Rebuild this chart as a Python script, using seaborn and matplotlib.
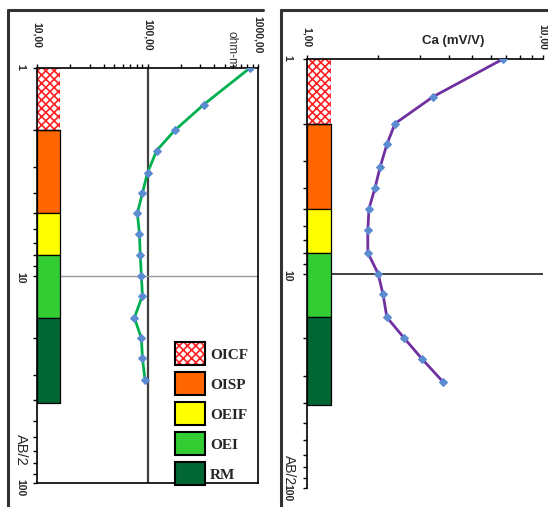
import numpy as np
import pandas as pd
import matplotlib
matplotlib.use('Agg')
import matplotlib.pyplot as plt
import seaborn as sns
from matplotlib.patches import Patch
from matplotlib.lines import Line2D
from matplotlib.ticker import LogLocator, NullFormatter

# sounding data
ab2 = [1, 1.5, 2, 2.5, 3.2, 4, 5, 6.3, 8, 10, 12.5, 16, 20, 25, 32]
rho = [845, 323, 176, 121, 100, 90, 81, 84.5, 86, 88, 90, 76, 88, 90, 95]
ca = [6.77, 3.42, 2.36, 2.18, 2.04, 1.94, 1.83, 1.81, 1.81, 2.0, 2.1, 2.18, 2.58, 3.07, 3.77]

# lithology column
layer_names = ['OICF', 'OISP', 'OEIF', 'OEI', 'RM']
layer_top = [1, 2, 5, 8, 16]
layer_bottom = [2, 5, 8, 16, 41]
layer_colors = ['white', '#FF6600', '#FFFF00', '#33CC33', '#006633']

rho_ticks = [10, 100, 1000]
rho_labels = ['10,00', '100,00', '1000,00']
ca_ticks = [1, 10]
ca_labels = ['1,00', '10,00']
ab_ticks = [1, 10, 100]
ab_labels = ['1', '10', '100']

df = pd.DataFrame({'ab2': ab2, 'rho': rho, 'ca': ca})

sns.set_style('white')
plt.rcParams['font.family'] = ['Liberation Sans', 'DejaVu Sans']
plt.rcParams['hatch.linewidth'] = 1.2

fig = plt.figure(figsize=(5.48, 5.07), dpi=100)
ax1 = fig.add_axes([37/548, 1-483/507, 221/548, 415/507])
ax2 = fig.add_axes([307/548, 1-488/507, 236/548, 429/507])


def setup(ax, xlim, xticks, xlabels, xpad, ypad):
    ax.set_xscale('log')
    ax.set_yscale('log')
    ax.set_xlim(xlim)
    ax.set_ylim(100, 1)
    ax.xaxis.tick_top()
    ax.set_xticks(xticks, xlabels)
    ax.set_yticks(ab_ticks, ab_labels)
    for axis in (ax.xaxis, ax.yaxis):
        axis.set_minor_locator(LogLocator(base=10, subs=np.arange(2, 10)))
        axis.set_minor_formatter(NullFormatter())
    ax.tick_params(which='both', direction='out', length=3, width=1,
                   color='black', labelsize=7.5)
    ax.tick_params(axis='x', which='both', top=True, bottom=False,
                   labelrotation=-90, pad=xpad)
    ax.tick_params(axis='y', which='both', left=True, labelrotation=-90, pad=ypad)
    for lab in ax.get_xticklabels():
        lab.set_fontweight('bold')
        lab.set_va('center')
    for lab in ax.get_yticklabels():
        lab.set_fontweight('bold')
        lab.set_ha('center')
    for s in ax.spines.values():
        s.set_color('black')
        s.set_linewidth(1.2)


def lithology(ax, width):
    for name, t, b, c in zip(layer_names, layer_top, layer_bottom, layer_colors):
        if name == 'OICF':
            ax.axhspan(t, b, xmin=0, xmax=width, facecolor='white', edgecolor='#FF2020',
                       hatch='xxxx', lw=0, zorder=2)
            ax.plot([0, width], [b, b], transform=ax.get_yaxis_transform(), color='black', lw=1, zorder=3)
        else:
            ax.axhspan(t, b, xmin=0, xmax=width, facecolor=c, edgecolor='black', lw=0.9, zorder=2)


# resistivity panel
setup(ax1, (10, 1000), rho_ticks, rho_labels, 21, 9)
ax1.axvline(100, color='#404040', lw=1.6, zorder=1)
ax1.axhline(10, color='#999999', lw=1, zorder=1)
lithology(ax1, 0.104)
sns.lineplot(data=df, x='rho', y='ab2', sort=False, estimator=None, ax=ax1,
             color='#00B050', lw=2, marker='D', markersize=4,
             markerfacecolor='#5B8BD0', markeredgecolor='#5B8BD0', zorder=4)
ax1.set_xlabel('')
ax1.set_ylabel('')
ax1.text(0.88, 1.0, 'ohm-m', transform=ax1.transAxes, rotation=-90,
         ha='center', va='bottom', fontsize=8.5, color='#333333')

handles = []
for name, c in zip(layer_names, layer_colors):
    if name == 'OICF':
        handles.append((Patch(facecolor='white', edgecolor='#FF2020', hatch='xxxx', lw=0),
                        Patch(facecolor='none', edgecolor='black', lw=1.5)))
    else:
        handles.append(Patch(facecolor=c, edgecolor='black', lw=1.5))
ax1.legend(handles, layer_names, loc='lower left', bbox_to_anchor=(0.591, -0.024),
           frameon=False, borderpad=0, handlelength=1.96, handleheight=1.94,
           labelspacing=0.46, handletextpad=0.3,
           prop={'family': 'Liberation Serif', 'weight': 'bold', 'size': 11})

# chargeability panel
setup(ax2, (1, 10), ca_ticks, ca_labels, 13, 11)
ax2.spines['right'].set_visible(False)
ax2.spines['bottom'].set_visible(False)
ax2.axhline(10, color='#333333', lw=1.3, zorder=1)
lithology(ax2, 0.102)
sns.lineplot(data=df, x='ca', y='ab2', sort=False, estimator=None, ax=ax2,
             color='#7030A0', lw=2, marker='D', markersize=4,
             markerfacecolor='#5B8BD0', markeredgecolor='#5B8BD0', zorder=4)
ax2.set_xlabel('')
ax2.set_ylabel('')
ax2.text(0.62, 1.028, 'Ca (mV/V)', transform=ax2.transAxes, ha='center', va='bottom',
         fontsize=9.5, fontweight='bold')

# AB/2 axis titles
fig.text(21/548, 1-450/507, 'AB/2', rotation=-90, ha='center', va='center', fontsize=10.5)
fig.text(289/548, 1-470/507, 'AB/2', rotation=-90, ha='center', va='center', fontsize=10)

# chart area frames
for x0, x1 in [(8, 263), (281, 548)]:
    fig.add_artist(Line2D([x0/548, x0/548], [0, 1-10/507], transform=fig.transFigure,
                          color='#333333', lw=2.2))
    fig.add_artist(Line2D([x0/548, x1/548], [1-10/507, 1-10/507], transform=fig.transFigure,
                          color='#333333', lw=2.2))

fig.savefig('out.png', dpi=100)
